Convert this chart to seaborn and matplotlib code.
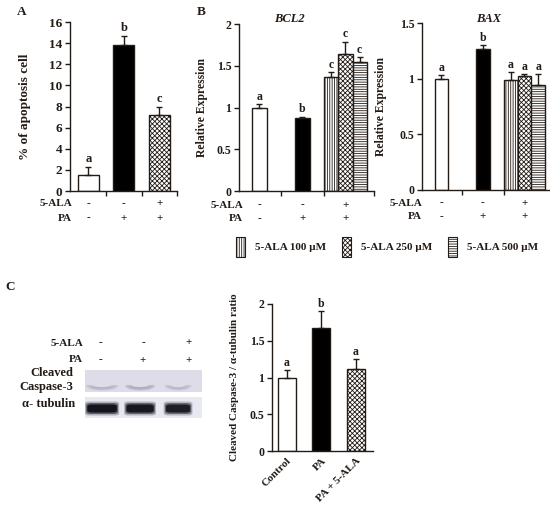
import numpy as np
import pandas as pd
import matplotlib
matplotlib.use('Agg')
import matplotlib.pyplot as plt
import seaborn as sns
from matplotlib.patches import Rectangle, FancyBboxPatch, Patch, Arc
from matplotlib.transforms import blended_transform_factory
from matplotlib.ticker import FuncFormatter

# ---------------- data ----------------
a_conditions = ['Control', 'PA', 'PA + 5-ALA']
a_values = [1.5, 13.8, 7.2]
a_errors = [0.8, 0.9, 0.8]
a_letters = ['a', 'b', 'c']
a_yticks = [0, 2, 4, 6, 8, 10, 12, 14, 16]

ala_signs = ['-', '-', '+']
pa_signs = ['-', '+', '+']

b_conditions = ['Control', 'PA', 'PA + 5-ALA 100', 'PA + 5-ALA 250', 'PA + 5-ALA 500']
bcl2_values = [1.00, 0.88, 1.36, 1.64, 1.54]
bcl2_errors = [0.04, 0.01, 0.06, 0.15, 0.06]
bcl2_letters = ['a', 'b', 'c', 'c', 'c']
bcl2_yticks = [0, 0.5, 1, 1.5, 2]
bax_values = [1.00, 1.27, 0.99, 1.02, 0.94]
bax_errors = [0.03, 0.03, 0.07, 0.02, 0.10]
bax_letters = ['a', 'b', 'a', 'a', 'a']
bax_yticks = [0, 0.5, 1, 1.5]
legend_labels = ['5-ALA 100 µM', '5-ALA 250 µM', '5-ALA 500 µM']

c_conditions = ['Control', 'PA', 'PA + 5-ALA']
c_values = [1.00, 1.67, 1.11]
c_errors = [0.10, 0.23, 0.14]
c_letters = ['a', 'b', 'a']
c_yticks = [0, 0.5, 1, 1.5, 2]
blot_caspase = [0.35, 0.45, 0.30]
blot_tubulin = [1.00, 0.95, 0.90]

# ---------------- style ----------------
sns.set_theme(style='ticks')
plt.rcParams['font.family'] = ['Liberation Serif', 'DejaVu Serif']
plt.rcParams['font.weight'] = 'bold'
plt.rcParams['hatch.linewidth'] = 0.6
INK = '#231b16'
plt.rcParams['text.color'] = INK
plt.rcParams['hatch.color'] = INK

W, H = 550, 514
fig = plt.figure(figsize=(W / 100, H / 100), dpi=100)
fig.patch.set_facecolor('white')

def rect(x0, y0, x1, y1):
    return [x0 / W, 1 - y1 / H, (x1 - x0) / W, (y1 - y0) / H]

def ftext(x, y, s, **kw):
    kw.setdefault('fontsize', 8)
    kw.setdefault('fontweight', 'bold')
    kw.setdefault('color', INK)
    fig.text(x / W, 1 - y / H, s, **kw)

CROSS = 'xxxxxxx'
styles = {
    'Control': ('white', ''),
    'PA': ('black', ''),
    'PA + 5-ALA': ('white', CROSS),
    'PA + 5-ALA 100': ('white', '|||||||'),
    'PA + 5-ALA 250': ('white', CROSS),
    'PA + 5-ALA 500': ('white', '-------'),
}
fmt = FuncFormatter(lambda v, p: '%g' % v)

def style_axes(ax, yticks, labelsize=8.5):
    sns.despine(ax=ax)
    for s in ['left', 'bottom']:
        ax.spines[s].set_color(INK)
        ax.spines[s].set_linewidth(1.0)
    ax.set_facecolor('white')
    ax.set_yticks(yticks)
    ax.set_ylim(yticks[0], yticks[-1])
    ax.yaxis.set_major_formatter(fmt)
    ax.tick_params(axis='both', colors=INK, width=1.0, length=3.5, direction='out',
                   labelsize=labelsize, pad=2)
    for t in ax.get_yticklabels():
        t.set_fontweight('bold')
    ax.set_xlabel('')

def draw_bars(ax, conds, vals, errs, letters, order, width, lsize=8.5):
    df = pd.DataFrame({'cond': conds, 'val': vals})
    sns.barplot(data=df, x='cond', y='val', order=order, width=width, color='white',
                edgecolor=INK, linewidth=1.0, errorbar=None, ax=ax, zorder=2)
    pos = [order.index(c) for c in conds]
    for p in ax.patches:
        xc = p.get_x() + p.get_width() / 2
        i = int(np.argmin([abs(xc - q) for q in pos]))
        fc, h = styles[conds[i]]
        p.set_facecolor(fc)
        p.set_hatch(h)
        p.set_edgecolor(INK)
    ax.errorbar(pos, vals, yerr=[np.zeros(len(vals)), errs], fmt='none', ecolor=INK,
                elinewidth=1.0, capsize=2.5, capthick=1.0, zorder=3)
    for x, v, e, l in zip(pos, vals, errs, letters):
        ax.annotate(l, (x, v + e), xytext=(0, 1), textcoords='offset points',
                    ha='center', va='bottom', fontsize=lsize, fontweight='bold', color=INK)
    return pos

def sign_rows(ax, xs, label_x, y1, y2):
    tr = blended_transform_factory(ax.transData, ax.transAxes)
    ax.text(label_x, y1, '5-ALA', transform=ax.transAxes, ha='right', va='center',
            fontsize=8, fontweight='bold', color=INK)
    ax.text(label_x, y2, 'PA', transform=ax.transAxes, ha='right', va='center',
            fontsize=8, fontweight='bold', color=INK)
    for x, s1, s2 in zip(xs, ala_signs, pa_signs):
        ax.text(x, y1, s1, transform=tr, ha='center', va='center', fontsize=8,
                fontweight='bold', color=INK)
        ax.text(x, y2, s2, transform=tr, ha='center', va='center', fontsize=8,
                fontweight='bold', color=INK)

# ---------------- Panel A ----------------
axA = fig.add_axes(rect(70, 22, 177, 191))
draw_bars(axA, a_conditions, a_values, a_errors, a_letters, a_conditions, 0.6, lsize=9)
style_axes(axA, a_yticks, labelsize=9.5)
axA.set_xlim(-0.52, 2.5)
axA.set_xticks([0.5, 1.5, 2.5])
axA.set_xticklabels([])
axA.set_ylabel('% of apoptosis cell', fontsize=9.5, fontweight='bold', color=INK)
axA.yaxis.set_label_coords(-0.36, 0.5)
sign_rows(axA, [0, 1, 2], 0.02, -0.072, -0.16)
ftext(17, 12, 'A', fontsize=9.5, va='center', ha='left')

# ---------------- Panel B ----------------
b_order = ['Control', 'gap1', 'gap2', 'PA', 'gap4',
           'PA + 5-ALA 100', 'PA + 5-ALA 250', 'PA + 5-ALA 500']

axB1 = fig.add_axes(rect(239, 24, 374, 191))
draw_bars(axB1, b_conditions, bcl2_values, bcl2_errors, bcl2_letters, b_order, 1.0)
style_axes(axB1, bcl2_yticks)
axB1.set_xlim(-1.43, 8.0)
axB1.set_xticks([1.5, 4.5, 8.0])
axB1.set_xticklabels([])
axB1.set_ylabel('Relative Expression', fontsize=8.5, fontweight='bold', color=INK)
axB1.yaxis.set_label_coords(-0.23, 0.5)
sign_rows(axB1, [0, 3, 6], 0.03, -0.084, -0.162)
ftext(289, 19, 'BCL2', fontsize=9, ha='center', va='center', style='italic')

axB2 = fig.add_axes(rect(422, 23, 550, 190))
draw_bars(axB2, b_conditions, bax_values, bax_errors, bax_letters, b_order, 1.0)
style_axes(axB2, bax_yticks)
axB2.set_xlim(-1.41, 7.85)
axB2.set_xticks([1.5, 4.5])
axB2.set_xticklabels([])
axB2.set_ylabel('Relative Expression', fontsize=8.5, fontweight='bold', color=INK)
axB2.yaxis.set_label_coords(-0.27, 0.5)
sign_rows(axB2, [0, 3, 6], 0.0, -0.078, -0.16)
ftext(489, 19, 'BAX', fontsize=9, ha='center', va='center', style='italic')
ftext(197, 12, 'B', fontsize=9.5, va='center', ha='left')

handles = [Patch(facecolor='white', edgecolor=INK, linewidth=0.8, hatch=styles[c][1])
           for c in ['PA + 5-ALA 100', 'PA + 5-ALA 250', 'PA + 5-ALA 500']]
fig.legend(handles, legend_labels, loc='center', bbox_to_anchor=(387 / W, 1 - 247 / H),
           ncol=3, frameon=False, handlelength=0.85, handleheight=2.4,
           handletextpad=0.9, columnspacing=1.4, borderpad=0,
           prop={'family': 'Liberation Serif', 'weight': 'bold', 'size': 8})

# ---------------- Panel C ----------------
ftext(5, 287, 'C', fontsize=9.5, va='center', ha='left')

axBlot = fig.add_axes(rect(85, 368, 202, 420))
axBlot.set_xlim(-0.45, 2.63)
axBlot.set_ylim(52, 0)
axBlot.axis('off')
axBlot.add_patch(Rectangle((-0.45, 2), 3.08, 22, facecolor='#dddce8', edgecolor='none'))
axBlot.add_patch(Rectangle((-0.45, 29), 3.08, 21, facecolor='#e8e8f0', edgecolor='none'))
band_w = [0.78, 0.72, 0.64]
for i, (ic, it) in enumerate(zip(blot_caspase, blot_tubulin)):
    for k, a in enumerate([0.25, 0.5, 0.9]):
        grow = 0.06 * (2 - k)
        w = band_w[i] + grow
        h = 8.0 + 3.0 * (2 - k)
        axBlot.add_patch(FancyBboxPatch((i - w / 2, 40.5 - h / 2), w, h,
                                        boxstyle='round,pad=0,rounding_size=0.12',
                                        mutation_aspect=18,
                                        facecolor='#0c0c14', edgecolor='none', alpha=a * it))
        axBlot.add_patch(Arc((i, 17), band_w[i] * (1 - 0.15 * k), 8 * (1 - 0.15 * k),
                             theta1=20, theta2=160,
                             color='#a09eb4', lw=2.2 - 0.5 * k, alpha=ic * 0.9))

sign_x = [100, 143, 189]
ftext(83, 343, '5-ALA', ha='right', va='center')
ftext(83, 360, 'PA', ha='right', va='center')
for x, s1, s2 in zip(sign_x, ala_signs, pa_signs):
    ftext(x, 343, s1, ha='center', va='center')
    ftext(x, 360, s2, ha='center', va='center')
ftext(73, 373, 'Cleaved', ha='right', va='center', fontsize=9)
ftext(73, 387, 'Caspase-3', ha='right', va='center', fontsize=9)
ftext(75, 404, 'α- tubulin', ha='right', va='center', fontsize=9)

axC = fig.add_axes(rect(272, 304, 373, 451))
draw_bars(axC, c_conditions, c_values, c_errors, c_letters, c_conditions, 0.52)
style_axes(axC, c_yticks)
axC.set_xlim(-0.43, 2.49)
axC.set_xticks([0, 1, 2])
axC.set_xticklabels(c_conditions, rotation=45, ha='right', rotation_mode='anchor',
                    fontsize=8, fontweight='bold', color=INK)
axC.tick_params(axis='x', length=0, pad=4)
axC.set_ylabel('Cleaved Caspase-3 / α-tubulin ratio', fontsize=8, fontweight='bold', color=INK)
axC.yaxis.set_label_coords(-0.33, 0.5)

fig.savefig('out.png', dpi=100, facecolor='white')
